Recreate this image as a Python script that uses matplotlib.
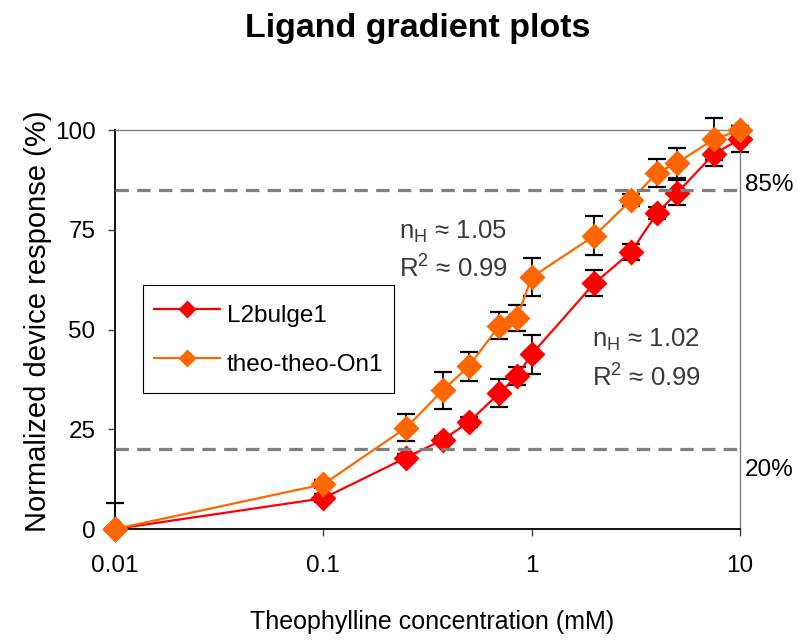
import matplotlib
matplotlib.use("Agg")
import matplotlib.pyplot as plt
from matplotlib.ticker import FixedLocator, FixedFormatter, NullLocator

plt.rcParams['font.family'] = ['Liberation Sans', 'DejaVu Sans']
plt.rcParams['mathtext.fontset'] = 'custom'
plt.rcParams['mathtext.rm'] = 'Liberation Sans'
plt.rcParams['mathtext.it'] = 'Liberation Sans'

# theophylline concentrations (mM)
conc = [0.01, 0.1, 0.25, 0.375, 0.5, 0.7, 0.85, 1, 2, 3, 4, 5, 7.5, 10]

# normalized response (%) and error bars
l2bulge = [0, 7.7, 17.9, 22.4, 26.8, 34.1, 38.3, 43.8, 61.6, 69.4, 79.2, 84.3, 94.0, 97.7]
l2bulge_err_lo = [0, 1.0, 1.0, 1.0, 1.3, 3.5, 2.3, 4.9, 3.3, 2.0, 1.5, 3.1, 3.0, 3.3]
l2bulge_err_hi = [6.5, 1.0, 1.0, 1.0, 1.3, 3.5, 2.3, 4.9, 3.3, 2.0, 1.5, 3.1, 3.0, 3.3]

theo = [0, 11.2, 25.4, 34.8, 40.8, 51.0, 52.9, 63.1, 73.5, 82.4, 89.3, 91.8, 97.7, 100]
theo_err = [0, 1.0, 3.3, 4.6, 3.6, 3.3, 3.2, 4.8, 4.9, 1.5, 3.5, 3.8, 5.3, 1.0]

thresholds = [85, 20]
threshold_labels = ['85%', '20%']

series_names = ['L2bulge1', 'theo-theo-On1']
red = '#FF0000'
orange = '#FF6600'

fig = plt.figure(figsize=(7.97, 6.41), dpi=100)
ax = fig.add_axes([115/797, 1-529/641, 625/797, 399/641])

ax.errorbar(conc, l2bulge, yerr=[l2bulge_err_lo, l2bulge_err_hi], fmt='none',
            ecolor='black', elinewidth=1.3, capsize=6.5, capthick=1.6,
            zorder=2, clip_on=False)
ax.errorbar(conc, theo, yerr=theo_err, fmt='none',
            ecolor='black', elinewidth=1.3, capsize=6.5, capthick=1.6,
            zorder=2, clip_on=False)

ax.plot(conc, l2bulge, color=red, lw=1.6, marker='D', ms=13.5, mec='none',
        label=series_names[0], zorder=3, clip_on=False)
ax.plot(conc, theo, color=orange, lw=1.6, marker='D', ms=13.5, mec='none',
        label=series_names[1], zorder=4, clip_on=False)

# threshold lines
for t in thresholds:
    ax.axhline(t, color='#808080', lw=2.3, dashes=(4.2, 2.6), zorder=5)
ax.text(1.008, 0.8625, threshold_labels[0], transform=ax.transAxes,
        fontsize=17.5, va='center', ha='left')
ax.text(1.008, 0.1475, threshold_labels[1], transform=ax.transAxes,
        fontsize=17.5, va='center', ha='left')

# Hill coefficient annotations
ann_color = '#383838'
ax.text(0.4544, 0.7275, r'n$_\mathregular{H}$ ≈ 1.05', transform=ax.transAxes,
        fontsize=18.5, color=ann_color, va='baseline')
ax.text(0.4544, 0.630, r'R$^\mathregular{2}$ ≈ 0.99', transform=ax.transAxes,
        fontsize=18.5, color=ann_color, va='baseline')
ax.text(0.7627, 0.4558, r'n$_\mathregular{H}$ ≈ 1.02', transform=ax.transAxes,
        fontsize=18.5, color=ann_color, va='baseline')
ax.text(0.7627, 0.3575, r'R$^\mathregular{2}$ ≈ 0.99', transform=ax.transAxes,
        fontsize=18.5, color=ann_color, va='baseline')

ax.set_xscale('log')
ax.set_xlim(0.01, 10)
ax.set_ylim(0, 100)
ax.xaxis.set_major_locator(FixedLocator([0.01, 0.1, 1, 10]))
ax.xaxis.set_major_formatter(FixedFormatter(['0.01', '0.1', '1', '10']))
ax.xaxis.set_minor_locator(NullLocator())
ax.set_yticks([0, 25, 50, 75, 100])

ax.tick_params(axis='both', direction='out', length=5, width=1, color='#404040',
               labelsize=17.5)
ax.tick_params(axis='x', pad=14)
ax.tick_params(axis='y', pad=9)

for side in ['left', 'bottom']:
    ax.spines[side].set_color('black')
    ax.spines[side].set_linewidth(1.3)
for side in ['top', 'right']:
    ax.spines[side].set_color('#808080')
    ax.spines[side].set_linewidth(1.0)

leg = ax.legend(loc='upper left', bbox_to_anchor=(143/797, 1-285/641),
                bbox_transform=fig.transFigure, fontsize=17.5, frameon=True,
                fancybox=False, edgecolor='black', framealpha=1,
                handlelength=2.7, handleheight=2.0, handletextpad=0.29,
                labelspacing=0.45, borderpad=0.45, borderaxespad=0,
                markerscale=0.7)
leg.get_frame().set_linewidth(0.8)
leg.set_zorder(6)

fig.text(418/797, 1-28/641, 'Ligand gradient plots', fontsize=24.5,
         fontweight='bold', ha='center', va='center')
fig.text(432/797, 1-622/641, 'Theophylline concentration (mM)', fontsize=18,
         ha='center', va='center')
fig.text(38/797, 1-321/641, 'Normalized device response (%)', fontsize=21,
         rotation=90, ha='center', va='center')

fig.savefig('out.png', dpi=100, facecolor='white')
